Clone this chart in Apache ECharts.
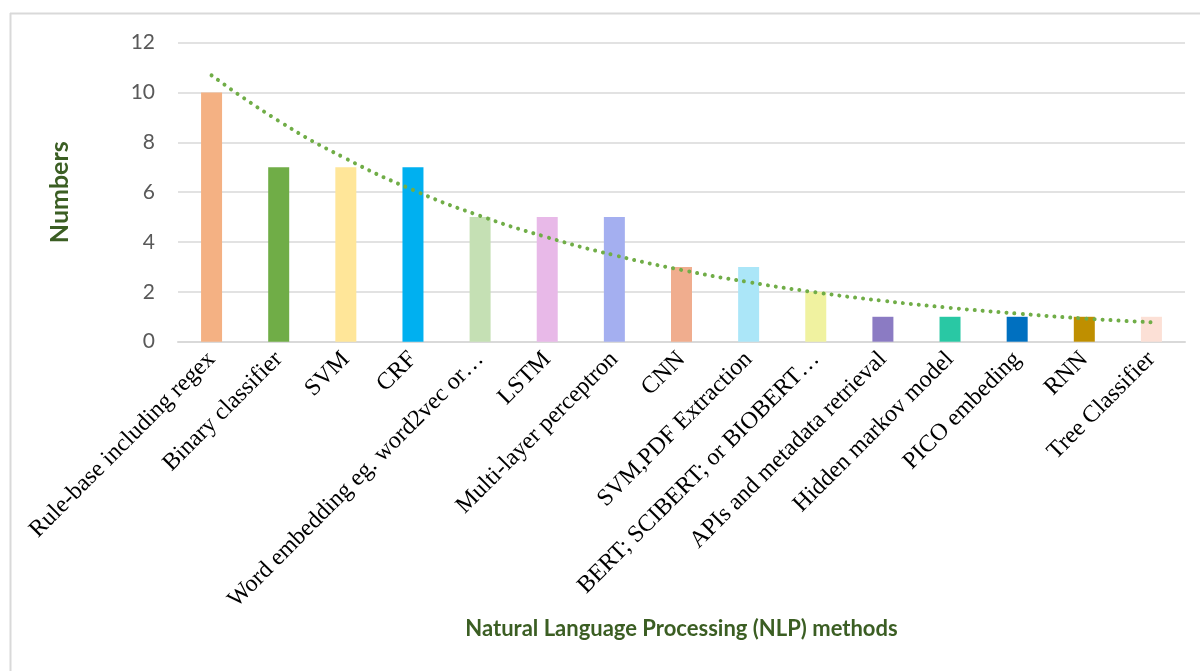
<!DOCTYPE html>
<html>
<head>
<meta charset="utf-8">
<script src="https://cdn.jsdelivr.net/npm/echarts@6/dist/echarts.min.js"></script>
<style>
html,body{margin:0;padding:0;background:#fff;}
#chart{width:1200px;height:671px;}
</style>
</head>
<body>
<div id="chart"></div>
<script>
const categories = [
  "Rule-base including regex",
  "Binary classifier",
  "SVM",
  "CRF",
  "Word embedding eg. word2vec or…",
  "LSTM",
  "Multi-layer perceptron",
  "CNN",
  "SVM,PDF Extraction",
  "BERT; SCIBERT; or BIOBERT…",
  "APIs and metadata retrieval",
  "Hidden markov model",
  "PICO embeding",
  "RNN",
  "Tree Classifier"
];
const counts = [10, 7, 7, 7, 5, 5, 5, 3, 3, 2, 1, 1, 1, 1, 1];
// exponential trendline values at each category
const trend = [10.69, 8.86, 7.35, 6.09, 5.05, 4.19, 3.47, 2.88, 2.39, 1.98, 1.64, 1.36, 1.13, 0.93, 0.78];
const yTicks = [0, 2, 4, 6, 8, 10, 12];

const barColors = ["#F4B183","#70AD47","#FFE699","#00B0F0","#C5E0B4","#E8B9E8","#A4AFF0","#F0AD8E",
  "#ABE6F8","#F0F2A0","#8B7BC3","#29C8A4","#0070C0","#BF8F00","#FCE0D6"];

const chart = echarts.init(document.getElementById('chart'), null, {renderer: 'canvas'});
chart.setOption({
  animation: false,
  backgroundColor: '#ffffff',
  grid: {left: 178, right: 15, top: 42.7, bottom: 329.3, containLabel: false},
  graphic: [
    {type: 'line', shape: {x1: 10, y1: 13.5, x2: 1200, y2: 13.5}, style: {stroke: '#d9d9d9', lineWidth: 2}},
    {type: 'line', shape: {x1: 10.5, y1: 13, x2: 10.5, y2: 671}, style: {stroke: '#d9d9d9', lineWidth: 2}}
  ],
  xAxis: {
    type: 'category',
    data: categories,
    axisLine: {show: true, lineStyle: {color: '#d9d9d9', width: 2}},
    axisTick: {show: false},
    axisLabel: {
      interval: 0, rotate: 45, margin: 14,
      fontFamily: 'Liberation Serif', fontSize: 24, color: '#000000'
    },
    name: 'Natural Language Processing (NLP) methods',
    nameLocation: 'middle',
    nameGap: 276,
    nameTextStyle: {fontFamily: 'Lato', fontWeight: 'bold', fontSize: 22, color: '#3B5E23', verticalAlign: 'top'}
  },
  yAxis: {
    type: 'value',
    min: yTicks[0], max: yTicks[yTicks.length - 1], interval: 2,
    axisLine: {show: false},
    axisTick: {show: false},
    splitLine: {lineStyle: {color: '#d9d9d9', width: 1.5}},
    axisLabel: {margin: 23, fontFamily: 'Lato', fontSize: 21, color: '#595959'},
    name: 'Numbers',
    nameLocation: 'middle',
    nameRotate: 90,
    nameGap: 106,
    nameTextStyle: {fontFamily: 'Lato', fontWeight: 'bold', fontSize: 25, color: '#3B5E23'}
  },
  series: [
    {
      type: 'bar',
      barWidth: 21,
      data: counts.map((v, i) => ({value: v, itemStyle: {color: barColors[i]}})),
      z: 2
    },
    {
      type: 'line',
      data: trend,
      smooth: true,
      symbol: 'none',
      lineStyle: {color: '#70AD47', width: 4, type: [0.01, 8], cap: 'round'},
      z: 3
    }
  ]
});
</script>
</body>
</html>
